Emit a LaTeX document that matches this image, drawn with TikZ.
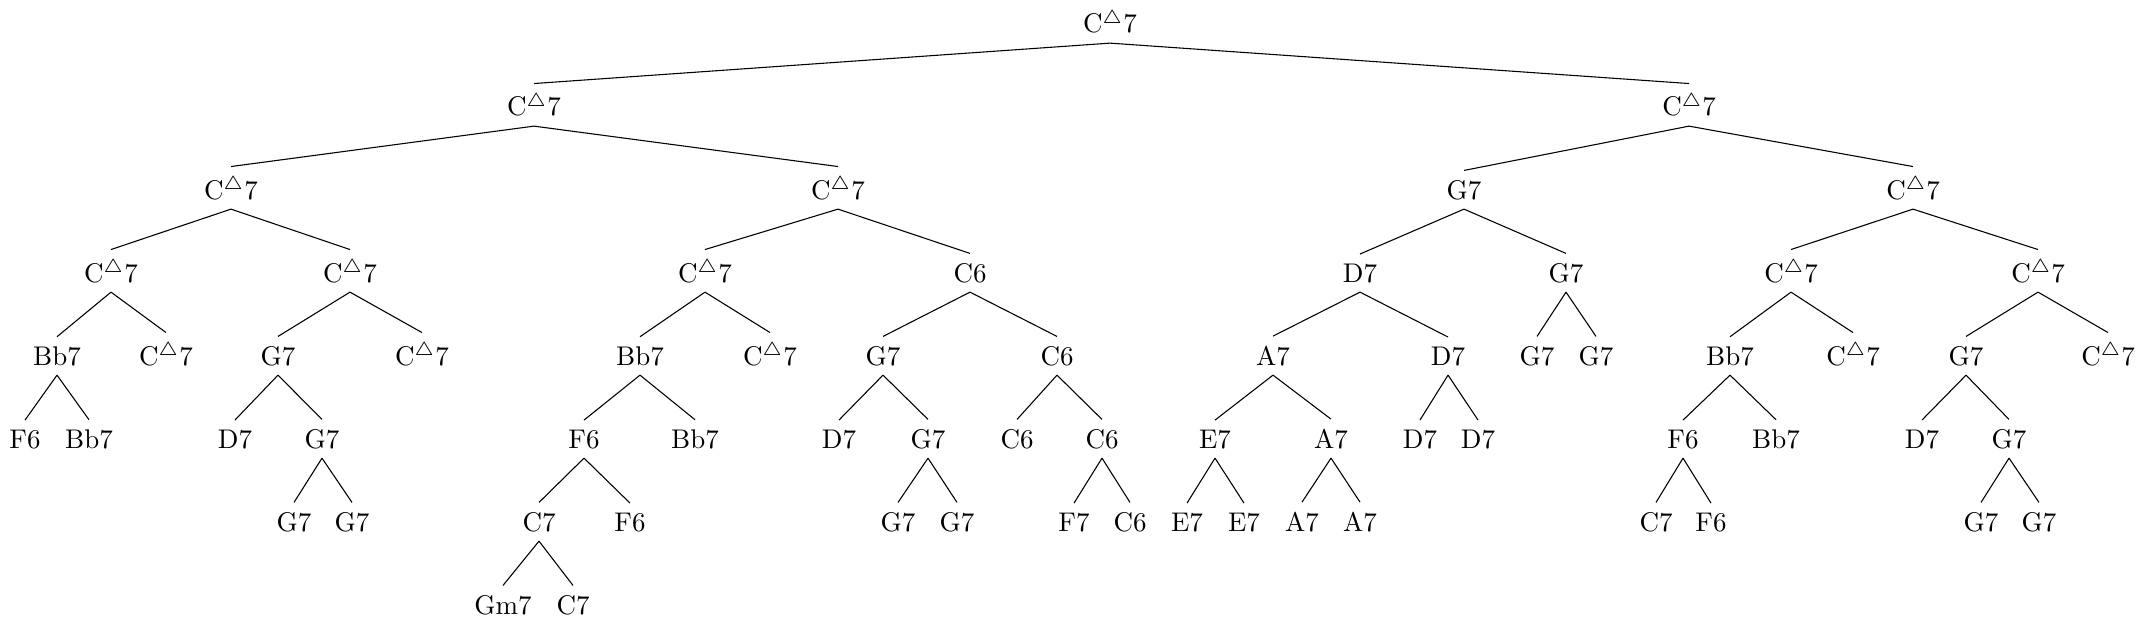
\documentclass[tikz,border=0pt]{standalone}
\usepackage{amssymb}
\newcommand\Cd{C$^{\triangle}$7}
\begin{document}
\begin{tikzpicture}[x=0.3704pt,y=-0.3704pt,tn/.style={anchor=base}]
\useasboundingbox (0,0) rectangle (2146,623);
\def\LA{33}\def\LB{116}\def\LC{199}\def\LD{282}\def\LE{365}\def\LF{448}\def\LG{531}\def\LH{614}
% level 0-1
\node[tn] (r) at (1110,\LA) {\Cd};
\node[tn] (a) at (534,\LB) {\Cd};
\node[tn] (b) at (1689,\LB) {\Cd};
% level 2
\node[tn] (aa) at (231,\LC) {\Cd};
\node[tn] (ab) at (838,\LC) {\Cd};
\node[tn] (ba) at (1464,\LC) {G7};
\node[tn] (bb) at (1913,\LC) {\Cd};
% level 3
\node[tn] (aaa) at (111,\LD) {\Cd};
\node[tn] (aab) at (350,\LD) {\Cd};
\node[tn] (aba) at (705,\LD) {\Cd};
\node[tn] (abb) at (970,\LD) {C6};
\node[tn] (baa) at (1360,\LD) {D7};
\node[tn] (bab) at (1566,\LD) {G7};
\node[tn] (bba) at (1791,\LD) {\Cd};
\node[tn] (bbb) at (2038,\LD) {\Cd};
% level 4
\node[tn] (aaaa) at (57,\LE) {Bb7};
\node[tn] (aaab) at (166,\LE) {\Cd};
\node[tn] (aaba) at (278,\LE) {G7};
\node[tn] (aabb) at (422,\LE) {\Cd};
\node[tn] (abaa) at (640,\LE) {Bb7};
\node[tn] (abab) at (770,\LE) {\Cd};
\node[tn] (abba) at (883,\LE) {G7};
\node[tn] (abbb) at (1057,\LE) {C6};
\node[tn] (baaa) at (1273,\LE) {A7};
\node[tn] (baab) at (1448,\LE) {D7};
\node[tn] (baba) at (1537,\LE) {G7};
\node[tn] (babb) at (1596,\LE) {G7};
\node[tn] (bbaa) at (1730,\LE) {Bb7};
\node[tn] (bbab) at (1853,\LE) {\Cd};
\node[tn] (bbba) at (1966,\LE) {G7};
\node[tn] (bbbb) at (2108,\LE) {\Cd};
% level 5
\node[tn] (aaaaa) at (25,\LF) {F6};
\node[tn] (aaaab) at (89,\LF) {Bb7};
\node[tn] (aabaa) at (235,\LF) {D7};
\node[tn] (aabab) at (322,\LF) {G7};
\node[tn] (abaaa) at (584,\LF) {F6};
\node[tn] (abaab) at (695,\LF) {Bb7};
\node[tn] (abbaa) at (839,\LF) {D7};
\node[tn] (abbab) at (928,\LF) {G7};
\node[tn] (abbba) at (1017,\LF) {C6};
\node[tn] (abbbb) at (1102,\LF) {C6};
\node[tn] (baaaa) at (1215,\LF) {E7};
\node[tn] (baaab) at (1331,\LF) {A7};
\node[tn] (baaba) at (1420,\LF) {D7};
\node[tn] (baabb) at (1478,\LF) {D7};
\node[tn] (bbaaa) at (1683,\LF) {F6};
\node[tn] (bbaab) at (1776,\LF) {Bb7};
\node[tn] (bbbaa) at (1922,\LF) {D7};
\node[tn] (bbbab) at (2009,\LF) {G7};
% level 6
\node[tn] (aababa) at (294,\LG) {G7};
\node[tn] (aababb) at (352,\LG) {G7};
\node[tn] (abaaaa) at (539,\LG) {C7};
\node[tn] (abaaab) at (630,\LG) {F6};
\node[tn] (abbaba) at (898,\LG) {G7};
\node[tn] (abbabb) at (957,\LG) {G7};
\node[tn] (abbbba) at (1074,\LG) {F7};
\node[tn] (abbbbb) at (1130,\LG) {C6};
\node[tn] (baaaaa) at (1187,\LG) {E7};
\node[tn] (baaaab) at (1244,\LG) {E7};
\node[tn] (baaaba) at (1302,\LG) {A7};
\node[tn] (baaabb) at (1360,\LG) {A7};
\node[tn] (bbaaaa) at (1656,\LG) {C7};
\node[tn] (bbaaab) at (1711,\LG) {F6};
\node[tn] (bbbaba) at (1981,\LG) {G7};
\node[tn] (bbbabb) at (2039,\LG) {G7};
% level 7
\node[tn] (abaaaaa) at (503,\LH) {Gm7};
\node[tn] (abaaaab) at (573,\LH) {C7};
% edges
\draw (r.south) -- (a.north);
\draw (r.south) -- (b.north);
\foreach \p in {a,b,aa,ab,ba,bb,aaa,aab,aba,abb,baa,bab,bba,bbb,
  aaaa,aaba,abaa,abba,abbb,baaa,baab,bbaa,bbba,
  aabab,abaaa,abbab,abbbb,baaaa,baaab,bbaaa,bbbab,abaaaa}
  {\draw (\p.south) -- (\p a.north); \draw (\p.south) -- (\p b.north);}
\end{tikzpicture}
\end{document}
